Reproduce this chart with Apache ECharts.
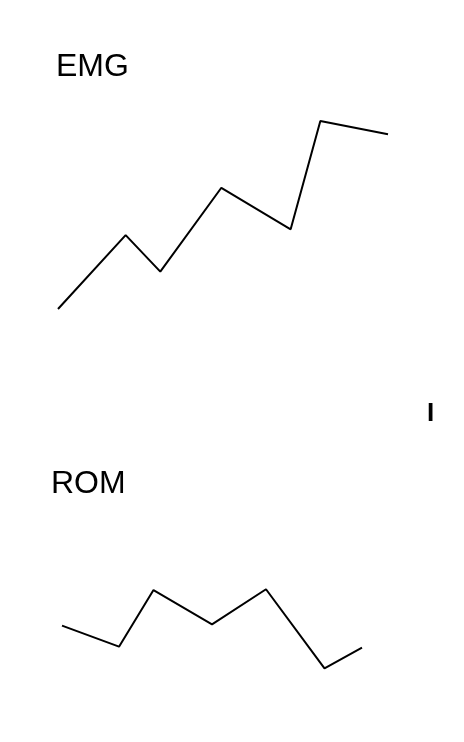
<!DOCTYPE html>
<html>
<head>
<meta charset="utf-8">
<script src="https://cdn.jsdelivr.net/npm/echarts@6/dist/echarts.min.js"></script>
<style>
html,body{margin:0;padding:0;background:#fff;}
#chart{width:464px;height:742px;}
</style>
</head>
<body>
<div id="chart"></div>
<script>
// EMG series: x positions (time units) and values
var emgX = [0, 2.05, 3.1, 4.95, 7.05, 7.95, 10];
var emgY = [5, 38.6, 22, 60.1, 41.2, 90.5, 84.4];
// ROM series
var romX = [0, 1.9, 3.05, 5.0, 6.8, 8.75, 10];
var romY = [49.4, 30.3, 81.8, 50.6, 82.5, 10.6, 29.4];
var titles = ["EMG", "ROM"];
var marker = "I";

function pairs(xs, ys) { return xs.map(function (x, i) { return [x, ys[i]]; }); }

var chart = echarts.init(document.getElementById('chart'), null, {renderer: 'canvas'});
var font = 'Liberation Sans';
chart.setOption({
  backgroundColor: '#ffffff',
  animation: false,
  title: [
    {text: titles[0], left: 51, top: 46, textStyle: {fontFamily: font, fontSize: 32, fontWeight: 'normal', color: '#000'}},
    {text: titles[1], left: 46, top: 463, textStyle: {fontFamily: font, fontSize: 32, fontWeight: 'normal', color: '#000'}}
  ],
  graphic: [
    {type: 'text', left: 427, top: 401, style: {text: marker, font: 'bold 26px "Liberation Sans"', fill: '#000'}}
  ],
  grid: [
    {left: 58, width: 330, top: 100, height: 220},
    {left: 62, width: 300, top: 570, height: 110}
  ],
  xAxis: [
    {type: 'value', gridIndex: 0, min: 0, max: 10, show: false},
    {type: 'value', gridIndex: 1, min: 0, max: 10, show: false}
  ],
  yAxis: [
    {type: 'value', gridIndex: 0, min: 0, max: 100, show: false},
    {type: 'value', gridIndex: 1, min: 0, max: 100, show: false}
  ],
  series: [
    {type: 'line', xAxisIndex: 0, yAxisIndex: 0, data: pairs(emgX, emgY), showSymbol: false, symbol: 'none',
     lineStyle: {color: '#000', width: 2}, clip: false},
    {type: 'line', xAxisIndex: 1, yAxisIndex: 1, data: pairs(romX, romY), showSymbol: false, symbol: 'none',
     lineStyle: {color: '#000', width: 2}, clip: false}
  ]
});
</script>
</body>
</html>
